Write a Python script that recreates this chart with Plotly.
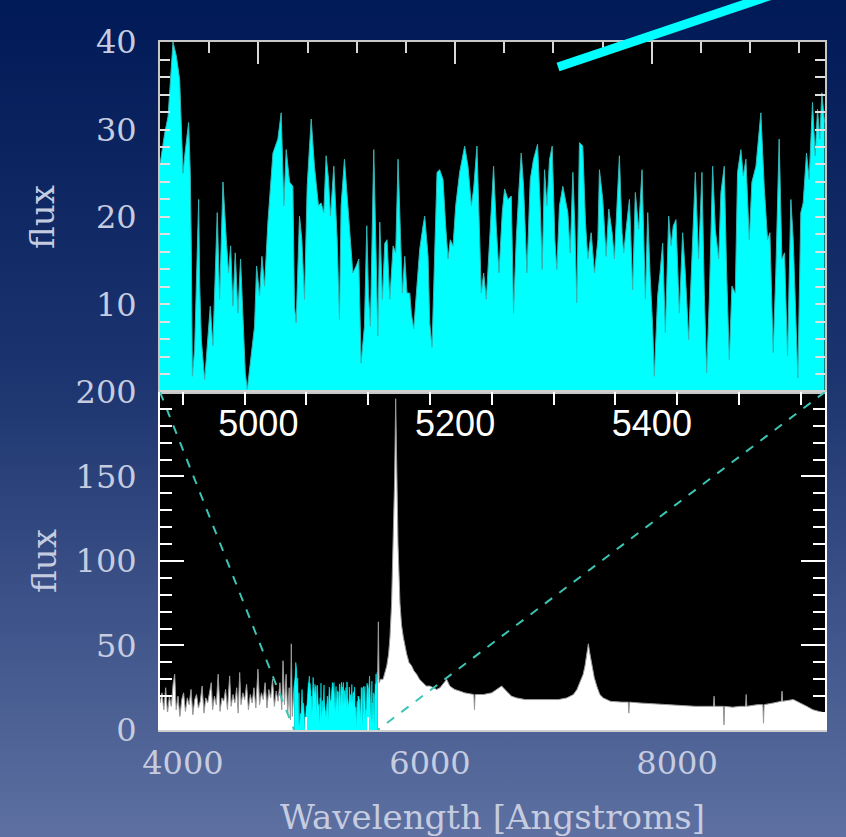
import base64
import plotly.graph_objects as go

# ---------------- data ----------------
# zoomed spectrum shown in the top panel (wavelength in Angstrom, flux)
top_wl = [4900.0, 4904.8, 4908.2, 4913.2, 4916.6, 4920.0, 4923.4, 4925.1, 4929.1, 4930.8,
          4931.8, 4932.9, 4935.2, 4937.9, 4939.3, 4940.3, 4942.0, 4945.4, 4948.8, 4951.1,
          4953.8, 4956.2, 4958.2, 4960.6, 4964.0, 4967.4, 4969.7, 4971.8, 4974.1, 4976.5,
          4979.2, 4981.9, 4984.3, 4986.7, 4988.7, 4992.1, 4996.1, 4998.2, 5001.2, 5003.6,
          5006.3, 5009.7, 5014.8, 5019.8, 5023.2, 5025.9, 5028.3, 5031.7, 5035.1, 5036.7,
          5038.4, 5041.8, 5044.2, 5046.9, 5049.6, 5053.7, 5057.0, 5061.1, 5063.8, 5066.5,
          5068.9, 5071.3, 5073.3, 5076.7, 5080.1, 5082.4, 5084.1, 5087.5, 5090.9, 5093.6,
          5096.0, 5099.4, 5102.1, 5104.4, 5107.8, 5110.2, 5111.9, 5113.9, 5117.3, 5119.7,
          5121.4,
          5123.4, 5126.1, 5128.5, 5130.8, 5133.6, 5137.0, 5139.6, 5142.0, 5144.4, 5146.4,
          5148.8, 5151.1, 5153.9, 5155.5, 5157.9, 5160.6, 5164.0, 5167.4, 5169.1, 5172.5,
          5174.2, 5176.5, 5179.2, 5181.6, 5184.3, 5187.7, 5190.4, 5192.8, 5195.1, 5197.9,
          5200.6, 5204.6, 5209.7, 5213.1, 5216.5, 5218.8, 5222.2, 5224.2, 5226.6, 5229.0,
          5231.7, 5235.1, 5239.1, 5241.8, 5244.6, 5247.9, 5250.3, 5253.7, 5257.1, 5259.4,
          5262.1, 5264.9, 5267.2, 5269.6, 5273.0, 5276.4, 5279.7, 5283.8, 5286.5, 5288.5,
          5290.9, 5293.3, 5296.0, 5298.7, 5301.4, 5303.4, 5306.1, 5309.5, 5312.2, 5314.6,
          5317.0, 5319.7, 5321.7, 5323.7, 5326.4, 5329.8, 5332.5, 5334.9, 5338.3, 5341.7,
          5345.1,
          5346.7, 5350.1, 5353.5, 5356.2, 5359.6, 5361.9, 5364.3, 5367.0, 5369.7, 5371.4,
          5373.8, 5377.2, 5380.5, 5383.2, 5386.6, 5390.0, 5393.4, 5395.8, 5398.1, 5400.8,
          5402.5, 5405.9, 5408.3, 5411.0, 5413.7, 5417.1, 5419.5, 5421.8, 5424.5, 5427.9,
          5431.3, 5434.0, 5437.4, 5440.8, 5444.2, 5447.5, 5450.9, 5453.3, 5455.7, 5458.4,
          5461.8, 5464.5, 5467.9, 5470.2, 5473.6, 5476.0, 5478.7, 5481.4, 5484.8, 5487.1,
          5490.5, 5492.9, 5495.6, 5499.0, 5501.7, 5505.8, 5508.5, 5510.8, 5514.2, 5517.6,
          5520.0, 5523.3, 5526.0, 5529.4, 5532.2, 5534.9, 5537.9, 5541.3, 5543.7, 5546.4,
          5548.4, 5551.4, 5553.8, 5557.2, 5559.9, 5563.3, 5566.0, 5568.4, 5570.7, 5572.8,
          5575.5]
top_flux = [26.0, 29.6, 31.5, 40.0, 38.4, 35.7, 25.0, 27.0, 30.8, 25.0,
            16.7, 1.8, 4.9, 16.7, 22.0, 12.5, 6.0, 1.4, 6.8, 9.8,
            5.3, 14.4, 20.5, 10.6, 24.0, 17.4, 13.6, 16.7, 9.8, 15.9,
            9.0, 15.2, 7.9, 2.2, 0.3, 3.7, 7.5, 14.4, 11.0, 15.5,
            12.1, 19.4, 27.3, 28.9, 31.9, 21.3, 27.7, 24.0, 23.5, 9.8,
            7.9, 20.1, 17.4, 10.6, 23.5, 31.2, 25.8, 21.3, 21.6, 20.5,
            27.0, 24.3, 20.1, 25.8, 17.4, 8.3, 21.3, 26.6, 21.3, 16.7,
            13.6, 14.4, 15.2, 3.3, 7.5, 19.0, 11.3, 7.5, 27.7, 15.5,
            6.4,
            19.4, 10.6, 17.0, 17.4, 10.6, 16.7, 15.9, 26.6, 18.2, 11.3,
            15.5, 11.3, 11.3, 9.0, 7.2, 11.3, 16.3, 19.0, 20.1, 15.5,
            7.9, 5.1, 16.7, 25.1, 25.4, 24.3, 19.0, 15.2, 17.4, 16.7,
            21.3, 25.1, 28.1, 25.8, 21.3, 23.2, 28.1, 21.3, 11.3, 13.6,
            10.6, 17.4, 25.8, 19.0, 13.6, 20.5, 23.2, 22.0, 22.4, 9.0,
            17.4, 23.2, 27.3, 23.5, 13.6, 24.3, 26.6, 28.3, 21.3, 14.0,
            25.4, 21.3, 26.6, 28.1, 17.4, 14.0, 21.3, 23.5, 22.0, 20.5,
            15.9, 25.1, 19.0, 10.2, 28.5, 28.1, 19.4, 15.2, 18.2, 13.6,
            17.4,
            25.4, 22.0, 15.5, 20.9, 18.2, 15.2, 20.5, 27.0, 18.2, 15.9,
            18.6, 22.0, 11.7, 22.8, 18.6, 25.4, 10.6, 20.5, 13.6, 7.5,
            1.8, 11.0, 13.6, 17.0, 6.8, 20.1, 16.7, 19.0, 19.7, 9.0,
            18.2, 13.6, 6.0, 15.9, 25.1, 15.2, 25.1, 11.3, 2.2, 10.6,
            25.8, 18.6, 15.2, 22.8, 25.8, 13.6, 3.7, 12.1, 11.3, 25.1,
            27.7, 24.7, 26.6, 17.4, 24.0, 25.8, 28.9, 31.9, 23.5, 17.4,
            18.2, 4.5, 13.6, 28.9, 15.2, 15.9, 4.1, 22.0, 17.4, 9.0,
            1.6, 20.5, 21.6, 27.3, 24.3, 33.1, 27.0, 32.3, 28.9, 34.2,
            30.8]

# full spectrum, blue side (before the zoomed region)
blue_wl = [3814, 3830, 3845, 3860, 3875, 3890, 3905, 3920, 3933, 3945,
           3960, 3975, 3990, 4005, 4020, 4035, 4050, 4065, 4080, 4095,
           4110, 4125, 4140, 4155, 4170, 4185, 4200, 4215, 4229, 4240,
           4255, 4270, 4285, 4300, 4315, 4330, 4345, 4360, 4378, 4390,
           4405, 4420, 4435, 4447, 4459, 4470, 4485, 4500, 4515, 4530,
           4545, 4560, 4575, 4590, 4607, 4620, 4635, 4650, 4665, 4680,
           4695, 4710, 4725, 4740, 4755, 4770, 4785, 4800, 4810, 4822,
           4835, 4848, 4860, 4870, 4877, 4885, 4893, 4900]
blue_flux = [16, 22, 12, 25, 10, 20, 14, 27, 33, 12,
             20, 8, 18, 22, 11, 19, 15, 24, 9, 18,
             21, 13, 17, 26, 10, 19, 16, 23, 28, 12,
             20, 15, 33, 11, 19, 17, 24, 12, 32, 14,
             21, 16, 25, 10, 34, 15, 22, 18, 27, 12,
             21, 16, 25, 13, 36, 15, 22, 18, 28, 13,
             24, 19, 30, 14, 23, 17, 28, 12, 41, 15,
             33, 10, 25, 6, 51, 8, 20, 26]

# full spectrum, red side (after the zoomed region)
red_wl = [5576, 5582, 5588, 5600, 5620, 5635, 5650, 5665, 5676, 5689,
          5703, 5714, 5722, 5730, 5741, 5757, 5770, 5784, 5800, 5811,
          5830, 5851, 5870, 5892, 5915, 5946, 5970, 6000, 6030, 6054,
          6081, 6110, 6135, 6160, 6200, 6243, 6280, 6355, 6360, 6365,
          6432, 6500, 6540, 6580, 6620, 6660, 6702, 6770, 6837, 6900,
          6972, 7040, 7107, 7161, 7190, 7215, 7240, 7255, 7270, 7282,
          7295, 7309, 7330, 7350, 7375, 7403, 7460, 7550, 7605, 7610,
          7615, 7700, 7800, 7900, 7970, 8050, 8150, 8240, 8295, 8300,
          8305, 8375, 8380, 8385, 8450, 8510, 8555, 8560, 8565, 8650,
          8695, 8700, 8705, 8780, 8845, 8850, 8855, 8942, 9000, 9050,
          9100, 9150, 9198]
red_flux = [30, 64, 28, 30, 30, 34, 38, 45, 55, 75,
            110, 150, 196, 165, 110, 75, 62, 55, 48, 45,
            40, 38, 35, 33, 30, 28, 26, 26, 25, 24,
            25, 28, 30, 26, 24, 23, 22, 21, 12, 21,
            21, 22, 24, 26, 23, 20, 19, 18, 18, 18,
            18, 18, 19, 21, 24, 28, 33, 38, 45, 51,
            45, 39, 31, 26, 21, 19, 17, 16.5, 16.5, 10,
            16.5, 16, 15.5, 15, 15, 14.5, 14, 14, 14, 20,
            14, 14, 3, 14, 13.5, 14, 14, 21, 14, 15,
            15, 4, 15, 16, 17, 23, 17, 18, 16, 14,
            12, 11, 10]

TOP_RANGE = [4900, 5576]
TOP_TICKS = [5000, 5200, 5400]
TOP_YTICKS = [10, 20, 30, 40]
BOT_RANGE = [3814, 9198]
BOT_TICKS = [4000, 6000, 8000]
FLUX_MAX_BOT = 200

# ---------------- styling ----------------
W, H = 846, 837
ML, MR, MT, MB = 160, 21, 42, 107
PW, PH = W - ML - MR, H - MT - MB
SPLIT = 0.4913

HERSHEY = dict(family="DejaVu Serif", size=32, color="#c6cce0")
TITLEF = dict(family="DejaVu Serif", size=34, color="#c6cce0")
CYAN = "#00ffff"

svg = ('<svg xmlns="http://www.w3.org/2000/svg" width="%d" height="%d" viewBox="0 0 %d %d" '
       'preserveAspectRatio="none"><defs><linearGradient id="g" x1="0" y1="0" x2="0" y2="1">'
       '<stop offset="0" stop-color="#001a57"/><stop offset="0.45" stop-color="#1c346f"/>'
       '<stop offset="1" stop-color="#5d70a1"/></linearGradient></defs>'
       '<rect width="%d" height="%d" fill="url(#g)"/></svg>') % (W, H, W, H, W, H)
bg_src = "data:image/svg+xml;base64," + base64.b64encode(svg.encode()).decode()

fig = go.Figure()

# top panel: zoomed spectrum
fig.add_trace(go.Scatter(x=top_wl, y=top_flux, xaxis="x", yaxis="y", mode="lines",
                         line=dict(color="#36b4b4", width=1), fill="tozeroy",
                         fillcolor=CYAN, hoverinfo="skip", showlegend=False))
# invisible helper so the label axis of the top panel is drawn
fig.add_trace(go.Scatter(x=TOP_TICKS, y=[0, 0, 0], xaxis="x3", yaxis="y", mode="markers",
                         marker=dict(opacity=0), hoverinfo="skip", showlegend=False))

# bottom panel: full spectrum
fig.add_trace(go.Scatter(x=blue_wl, y=blue_flux, xaxis="x2", yaxis="y2", mode="lines",
                         line=dict(color="#9a9a9a", width=1), fill="tozeroy",
                         fillcolor="white", hoverinfo="skip", showlegend=False))
fig.add_trace(go.Scatter(x=top_wl, y=top_flux, xaxis="x2", yaxis="y2", mode="lines",
                         line=dict(color=CYAN, width=0.6), fill="tozeroy",
                         fillcolor=CYAN, hoverinfo="skip", showlegend=False))
fig.add_trace(go.Scatter(x=red_wl, y=red_flux, xaxis="x2", yaxis="y2", mode="lines",
                         line=dict(color="#9a9a9a", width=1), fill="tozeroy",
                         fillcolor="white", hoverinfo="skip", showlegend=False))
# zoom connector lines
fig.add_trace(go.Scatter(x=[BOT_RANGE[0], TOP_RANGE[0]], y=[FLUX_MAX_BOT, 0], xaxis="x2", yaxis="y2",
                         mode="lines", line=dict(color="#3cc4b4", width=2, dash="dash"),
                         hoverinfo="skip", showlegend=False))
fig.add_trace(go.Scatter(x=[BOT_RANGE[1], TOP_RANGE[1]], y=[FLUX_MAX_BOT, 0], xaxis="x2", yaxis="y2",
                         mode="lines", line=dict(color="#3cc4b4", width=2, dash="dash"),
                         hoverinfo="skip", showlegend=False))

common = dict(showgrid=False, zeroline=False, automargin=False)

fig.update_layout(
    template="none",
    width=W, height=H,
    margin=dict(l=ML, r=MR, t=MT, b=MB, pad=0),
    paper_bgcolor="#1c346f",
    plot_bgcolor="black",
    showlegend=False,
    font=dict(family="DejaVu Serif", color="#c6cce0"),
    images=[dict(source=bg_src, xref="paper", yref="paper",
                 x=-ML / PW, y=1 + MT / PH, sizex=W / PW, sizey=H / PH,
                 xanchor="left", yanchor="top", sizing="stretch", layer="below")],
    xaxis=dict(domain=[0, 1], anchor="y", range=TOP_RANGE, side="top",
               showline=True, linecolor="#c8c8c8", linewidth=2, mirror=True,
               ticks="inside", tickvals=TOP_TICKS, ticklen=22, tickwidth=2, tickcolor="#d8d8d8",
               showticklabels=False,
               minor=dict(dtick=50, tick0=5000, ticks="inside", ticklen=11, tickwidth=2,
                          tickcolor="#d8d8d8"),
               **common),
    xaxis3=dict(overlaying="x", anchor="y", side="bottom", range=TOP_RANGE,
                tickvals=TOP_TICKS, ticks="", showline=False,
                tickfont=dict(family="Liberation Sans, Arial", size=36, color="white"),
                ticklabelstandoff=7, **common),
    yaxis=dict(domain=[SPLIT, 1], anchor="x", range=[0, 40], tickvals=TOP_YTICKS,
               showline=True, linecolor="#c8c8c8", linewidth=2, mirror="ticks",
               ticks="inside", ticklen=10, tickwidth=2, tickcolor="#e0e0e0",
               minor=dict(dtick=2, tick0=0, ticks="inside", ticklen=10, tickwidth=2,
                          tickcolor="#e0e0e0"),
               tickfont=HERSHEY, ticklabelstandoff=15,
               title=dict(text="flux", font=TITLEF, standoff=31),
               **common),
    xaxis2=dict(domain=[0, 1], anchor="y2", range=BOT_RANGE, tickvals=BOT_TICKS,
                showline=True, linecolor="#d0d0d0", linewidth=2, mirror="ticks",
                ticks="inside", ticklen=13, tickwidth=2, tickcolor="white",
                minor=dict(dtick=500, tick0=4000, ticks="inside", ticklen=13, tickwidth=2,
                           tickcolor="white"),
                tickfont=HERSHEY, ticklabelstandoff=4,
                title=dict(text="Wavelength [Angstroms]", font=TITLEF, standoff=28),
                **common),
    yaxis2=dict(domain=[0, SPLIT], anchor="x2", range=[0, FLUX_MAX_BOT], dtick=50, tick0=0,
                showline=True, linecolor="white", linewidth=2, mirror="ticks",
                ticks="inside", ticklen=24, tickwidth=2, tickcolor="white",
                minor=dict(dtick=10, tick0=0, ticks="inside", ticklen=12, tickwidth=2,
                           tickcolor="white"),
                tickfont=HERSHEY, ticklabelstandoff=15,
                title=dict(text="flux", font=TITLEF, standoff=9),
                **common),
)

# black plotting areas (drawn above the gradient image, below the traces)
fig.add_shape(type="rect", xref="paper", yref="paper", x0=0, x1=1, y0=SPLIT, y1=1,
              fillcolor="black", line=dict(width=0), layer="below")
fig.add_shape(type="rect", xref="paper", yref="paper", x0=0, x1=1, y0=0, y1=SPLIT,
              fillcolor="black", line=dict(width=0), layer="below")

# decorative thick cyan stroke at the top of the slide
STROKE = dict(x0=(558 - ML) / PW, y0=(H - MB - 67) / PH, x1=(772 - ML) / PW, y1=(H - MB + 5) / PH)
fig.add_shape(type="line", xref="paper", yref="paper", line=dict(color=CYAN, width=9), **STROKE)

fig.write_html("out.html", config={"displayModeBar": False},
               post_script="document.body.style.margin='0';document.body.style.overflow='hidden';")
